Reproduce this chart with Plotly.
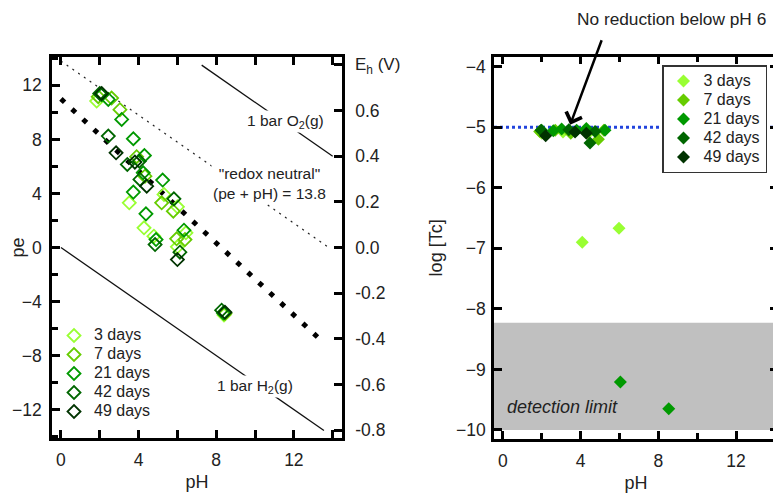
import plotly.graph_objects as go

# ---------------- data ----------------
series_names = ["3 days", "7 days", "21 days", "42 days", "49 days"]
series_colors = ["#99ff33", "#66cc00", "#009900", "#006600", "#003300"]

# left panel: pH vs pe
ph_3d = [1.84, 3.52, 5.31, 6.00, 4.28, 4.79, 6.44, 6.00, 8.40]
pe_3d = [10.84, 3.31, 3.93, 3.01, 1.46, 0.84, 1.09, 0.05, -5.00]
ph_7d = [1.92, 2.61, 3.04, 3.90, 4.33, 5.19, 5.79, 5.96, 6.39, 8.45]
pe_7d = [11.16, 11.06, 10.20, 6.72, 5.28, 3.31, 2.69, 0.64, 0.59, -4.89]
ph_21d = [2.10, 2.44, 3.13, 3.73, 4.30, 4.24, 5.24, 3.73, 4.38, 4.90, 6.34, 8.37]
pe_21d = [11.30, 10.96, 9.48, 8.05, 6.81, 5.53, 4.99, 4.10, 2.49, 0.59, 1.28, -4.84]
ph_42d = [2.00, 2.44, 3.42, 4.04, 4.07, 5.82, 4.85, 6.13, 8.28]
pe_42d = [11.40, 8.25, 6.15, 6.39, 5.04, 3.60, 0.22, -0.35, -4.64]
ph_49d = [2.10, 2.84, 3.81, 4.42, 6.00, 8.45]
pe_49d = [11.40, 7.01, 6.32, 4.54, -0.89, -4.80]

# right panel: pH vs log[Tc]
rph_3d = [4.09, 5.98, 2.00, 3.10, 4.40]
rtc_3d = [-6.90, -6.67, -5.10, -5.08, -5.10]
rph_7d = [1.90, 2.70, 3.50, 4.92, 5.20]
rtc_7d = [-5.07, -5.05, -5.10, -5.20, -5.05]
rph_21d = [6.05, 8.54, 2.00, 2.60, 3.03, 3.80, 4.30, 5.26]
rtc_21d = [-9.21, -9.65, -5.05, -5.06, -5.03, -5.05, -5.02, -5.05]
rph_42d = [1.97, 3.40, 4.49, 4.75]
rtc_42d = [-5.05, -5.04, -5.26, -5.07]
rph_49d = [2.21, 3.72, 4.30]
rtc_49d = [-5.14, -5.08, -5.10]

left_x = [ph_3d, ph_7d, ph_21d, ph_42d, ph_49d]
left_y = [pe_3d, pe_7d, pe_21d, pe_42d, pe_49d]
right_x = [rph_3d, rph_7d, rph_21d, rph_42d, rph_49d]
right_y = [rtc_3d, rtc_7d, rtc_21d, rtc_42d, rtc_49d]

# reference lines (pH endpoints, pe endpoints)
o2_ph = [7.25, 14.0]
o2_pe = [13.5, 6.75]
h2_ph = [0.0, 13.55]
h2_pe = [0.0, -13.55]
neutral_ph = [0.0, 13.8]
neutral_pe = [13.8, 0.0]
tc_ph = [0.0, 13.5]
tc_pe = [11.0, -7.0]

eh_ticks = [-0.8, -0.6, -0.4, -0.2, 0.0, 0.2, 0.4, 0.6, 0.8]
eh_text = ["-0.8", "-0.6", "-0.4", "-0.2", "0.0", "0.2", "0.4", "0.6", ""]

detection_limit = [-10.0, -8.23]
no_reduction_level = -5.0

# ---------------- figure ----------------
W, H = 781, 493
OFF = 8  # page body margin


def px(xp):
    return (xp - OFF) / W


def py(yp):
    return 1 - (yp - OFF) / H


FONT = "Liberation Sans, Arial, sans-serif"
TXT = "#222"
PE_RANGE = [-14.1, 14.1]
EH_FACTOR = 0.05916

fig = go.Figure()

# left panel lines
fig.add_trace(go.Scatter(x=neutral_ph, y=neutral_pe, mode="lines", xaxis="x", yaxis="y",
                         line=dict(color="#222", width=1.2, dash="2px,5px"), showlegend=False,
                         hoverinfo="skip"))
fig.add_trace(go.Scatter(x=o2_ph, y=o2_pe, mode="lines", xaxis="x", yaxis="y",
                         line=dict(color="#111", width=1.3), showlegend=False, hoverinfo="skip"))
fig.add_trace(go.Scatter(x=h2_ph, y=h2_pe, mode="lines", xaxis="x", yaxis="y",
                         line=dict(color="#111", width=1.3), showlegend=False, hoverinfo="skip"))
fig.add_trace(go.Scatter(x=tc_ph, y=tc_pe, mode="lines", xaxis="x", yaxis="y",
                         line=dict(color="#000", width=5, dash="5px,10px"), showlegend=False,
                         hoverinfo="skip"))


def leg_name(n):
    return "<span style='font-size:16px'>%s</span>" % n


for name, col, xs, ys in zip(series_names, series_colors, left_x, left_y):
    fig.add_trace(go.Scatter(x=xs, y=ys, mode="markers", name=leg_name(name), xaxis="x",
                             yaxis="y", legend="legend",
                             marker=dict(symbol="diamond-open", size=10, color=col,
                                         line=dict(width=1.8, color=col))))

for name, col, xs, ys in zip(series_names, series_colors, right_x, right_y):
    fig.add_trace(go.Scatter(x=xs, y=ys, mode="markers", name=leg_name(name), xaxis="x2",
                             yaxis="y3", legend="legend2",
                             marker=dict(symbol="diamond", size=10, color=col,
                                         line=dict(width=0))))

# dummy trace to activate Eh axis
fig.add_trace(go.Scatter(x=[None], y=[None], xaxis="x", yaxis="y2", showlegend=False))

axis_common = dict(showline=True, linewidth=2.5, linecolor="black", ticks="inside",
                   ticklen=8, tickwidth=2.5, tickcolor="black", showgrid=False, zeroline=False,
                   automargin=False,
                   tickfont=dict(family=FONT, size=17.5, color=TXT))
minor_common = dict(ticks="inside", ticklen=6, tickwidth=2.5, tickcolor="black",
                    showgrid=False)
title_font = dict(family=FONT, size=18, color=TXT)

fig.update_layout(
    template="none",
    width=W, height=H, autosize=False,
    margin=dict(l=0, r=0, t=0, b=0, pad=0),
    paper_bgcolor="white", plot_bgcolor="white",
    font=dict(family=FONT, size=14, color=TXT),
    xaxis=dict(domain=[px(52), px(342)], range=[-0.46, 14.48], anchor="y",
               tickvals=[0, 4, 8, 12], mirror="allticks", ticklabelstandoff=4,
               minor=dict(dtick=2, tick0=0, **minor_common),
               title=dict(text="pH", font=title_font, standoff=7),
               **axis_common),
    yaxis=dict(domain=[py(438), py(57)], range=PE_RANGE, anchor="x",
               tickvals=[-12, -8, -4, 0, 4, 8, 12], mirror=True, ticklabelstandoff=4,
               minor=dict(dtick=2, tick0=0, **minor_common),
               title=dict(text="pe", font=title_font, standoff=1),
               **axis_common),
    yaxis2=dict(domain=[py(438), py(57)], overlaying="y", side="right", anchor="x",
                range=[PE_RANGE[0] * EH_FACTOR, PE_RANGE[1] * EH_FACTOR],
                tickvals=eh_ticks, ticktext=eh_text, ticklabelstandoff=7, **axis_common),
    xaxis2=dict(domain=[px(494), px(778)], range=[-0.45, 14.16], anchor="y3",
                tickvals=[0, 4, 8, 12], mirror="allticks", ticklabelstandoff=4,
                minor=dict(dtick=2, tick0=0, **minor_common),
                title=dict(text="pH", font=title_font, standoff=7),
                **axis_common),
    yaxis3=dict(domain=[py(439), py(56.7)], range=[-10.15, -3.835], anchor="x2",
                tickvals=[-10, -9, -8, -7, -6, -5, -4], mirror="allticks", ticklabelstandoff=2,
                title=dict(text="log [Tc]", font=title_font, standoff=9),
                **axis_common),
    legend=dict(x=px(54), y=py(321), xanchor="left", yanchor="top",
                bgcolor="rgba(0,0,0,0)", borderwidth=0,
                font=dict(family=FONT, size=12, color=TXT), tracegroupgap=0),
    legend2=dict(x=px(662), y=py(65), xanchor="left", yanchor="top",
                 bgcolor="white", bordercolor="#333", borderwidth=1.5,
                 font=dict(family=FONT, size=12, color=TXT), tracegroupgap=0),
    showlegend=True,
)

# right panel shapes
fig.add_shape(type="rect", xref="x2 domain", yref="y3", x0=0, x1=1,
              y0=detection_limit[0], y1=detection_limit[1],
              fillcolor="#c0c0c0", line=dict(width=0), layer="below")
fig.add_shape(type="line", xref="x2 domain", yref="y3", x0=0, x1=1,
              y0=no_reduction_level, y1=no_reduction_level,
              line=dict(color="#2244dd", width=3, dash="dot"), layer="below")

ann_font = dict(family=FONT, size=15.5, color=TXT)
fig.add_annotation(x=11.55, y=9.36, xref="x", yref="y", text="1 bar O<sub>2</sub>(g)",
                   showarrow=False, font=ann_font, bgcolor="white")
fig.add_annotation(x=10.77, y=4.74, xref="x", yref="y",
                   text="\"redox neutral\"<br>(pe + pH) = 13.8",
                   showarrow=False, font=ann_font, bgcolor="white")
fig.add_annotation(x=10.0, y=-10.3, xref="x", yref="y", text="1 bar H<sub>2</sub>(g)",
                   showarrow=False, font=ann_font, bgcolor="white")
fig.add_annotation(x=px(353), y=py(66), xref="paper", yref="paper",
                   text="E<sub>h</sub> (V)", showarrow=False, xanchor="left",
                   yanchor="middle", font=dict(family=FONT, size=17, color=TXT))
fig.add_annotation(x=3.05, y=-9.62, xref="x2", yref="y3", text="<i>detection limit</i>",
                   showarrow=False, font=dict(family=FONT, size=18, color=TXT))
fig.add_annotation(x=px(671), y=py(19), xref="paper", yref="paper",
                   text="No reduction below pH 6", showarrow=False,
                   xanchor="center", yanchor="middle", borderpad=0,
                   font=dict(family=FONT, size=17.3, color=TXT))
fig.add_annotation(x=3.47, y=-4.96, xref="x2", yref="y3", ax=32, ay=-86,
                   text="", showarrow=True, arrowhead=4, arrowsize=1.3, arrowwidth=2.5,
                   arrowcolor="black")

fig.write_html("out.html")
